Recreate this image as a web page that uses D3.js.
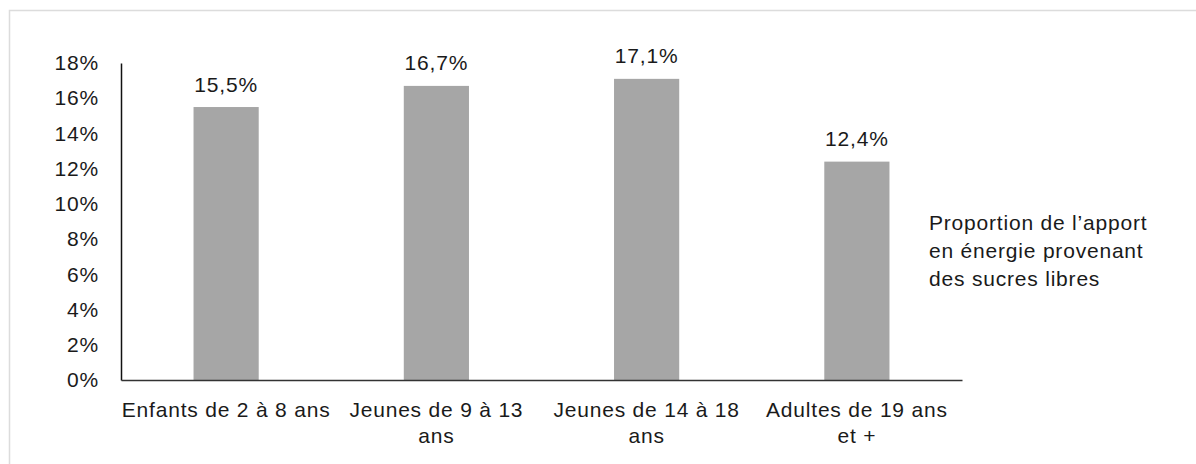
<!DOCTYPE html>
<html>
<head>
<meta charset="utf-8">
<script src="https://d3js.org/d3.v7.min.js"></script>
<style>
  body { margin: 0; background: #fff; }
  svg text { font-family: "Liberation Sans", Arial, sans-serif; fill: #1a1a1a; }
</style>
</head>
<body>
<div id="chart"></div>
<script>
// Data
const categories = [
    ["Enfants de 2 à 8 ans"],
    ["Jeunes de 9 à 13", "ans"],
    ["Jeunes de 14 à 18", "ans"],
    ["Adultes de 19 ans", "et +"]
];
const values = [15.5, 16.7, 17.1, 12.4];
const valueLabels = ["15,5%", "16,7%", "17,1%", "12,4%"];
const yTicks = [0, 2, 4, 6, 8, 10, 12, 14, 16, 18];
const legendLines = ["Proportion de l\u2019apport", "en énergie provenant", "des sucres libres"];

const W = 1196, H = 464;
const margin = { top: 63, right: 234, bottom: 84, left: 121 };
const width = W - margin.left - margin.right;
const height = H - margin.top - margin.bottom;
const fontSize = 21;
const spacing = "0.8px";

const root = d3.select("#chart")
    .append("svg")
    .attr("width", W)
    .attr("height", H);

// frame
root.append("rect")
    .attr("x", 9.5)
    .attr("y", 10.5)
    .attr("width", 1300)
    .attr("height", 600)
    .attr("fill", "none")
    .attr("stroke", "#dcdcdc")
    .attr("stroke-width", 1.5);

const svg = root.append("g")
    .attr("transform", `translate(${margin.left}, ${margin.top})`);

// Scales
const xScale = d3.scaleBand()
    .domain(d3.range(categories.length))
    .range([0, width])
    .paddingInner(0.69)
    .paddingOuter(0.345);

const yScale = d3.scaleLinear()
    .domain([0, 18])
    .range([height, 0]);

// Bars
svg.selectAll(".bar")
    .data(values)
    .enter()
    .append("rect")
    .attr("class", "bar")
    .attr("x", (d, i) => xScale(i))
    .attr("y", d => yScale(d))
    .attr("width", xScale.bandwidth())
    .attr("height", d => yScale(0) - yScale(d))
    .attr("fill", "#a6a6a6");

// Value labels
svg.selectAll(".val")
    .data(values)
    .enter()
    .append("text")
    .attr("class", "val")
    .attr("x", (d, i) => xScale(i) + xScale.bandwidth() / 2)
    .attr("y", d => yScale(d) - 15.5)
    .attr("text-anchor", "middle")
    .style("font-size", fontSize + "px")
    .style("letter-spacing", spacing)
    .text((d, i) => valueLabels[i]);

// Y axis
const yAxis = svg.append("g")
    .attr("class", "y-axis")
    .call(d3.axisLeft(yScale)
        .tickValues(yTicks)
        .tickSize(0)
        .tickPadding(22)
        .tickFormat(d => d + "%"));
yAxis.select("path").attr("stroke", "#111").attr("stroke-width", 1.5);
yAxis.selectAll("text")
    .style("font-size", fontSize + "px")
    .style("letter-spacing", spacing)
    .attr("fill", "#1a1a1a");

// X axis
const xAxis = svg.append("g")
    .attr("class", "x-axis")
    .attr("transform", `translate(0, ${height})`)
    .call(d3.axisBottom(xScale).tickSize(0).tickFormat(""));
xAxis.select("path").attr("stroke", "#333").attr("stroke-width", 1.5);

xAxis.selectAll(".tick")
    .append("text")
    .attr("class", "cat")
    .attr("text-anchor", "middle")
    .attr("fill", "#1a1a1a")
    .style("font-size", fontSize + "px")
    .style("letter-spacing", spacing)
    .selectAll("tspan")
    .data(i => categories[i])
    .enter()
    .append("tspan")
    .attr("x", 0)
    .attr("y", (d, j) => 37 + j * 26)
    .text(d => d);

// Series label on the right
root.append("text")
    .attr("x", 929)
    .attr("y", 230)
    .style("font-size", fontSize + "px")
    .style("letter-spacing", spacing)
    .selectAll("tspan")
    .data(legendLines)
    .enter()
    .append("tspan")
    .attr("x", 929)
    .attr("dy", (d, i) => i === 0 ? 0 : 28)
    .text(d => d);
</script>
</body>
</html>
